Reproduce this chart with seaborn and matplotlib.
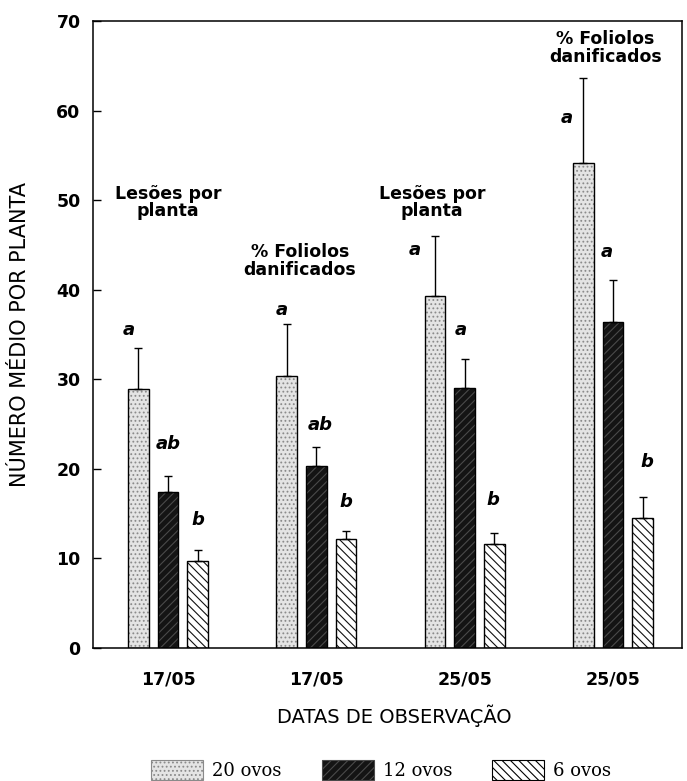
import matplotlib
matplotlib.use("Agg")
import matplotlib.pyplot as plt
import seaborn as sns
import pandas as pd
from matplotlib.patches import Patch, Rectangle

# ---------------- data ----------------
observacoes = ["17/05 lesões", "17/05 folíolos", "25/05 lesões", "25/05 folíolos"]
rotulos_x = ["17/05", "17/05", "25/05", "25/05"]
tratamentos = ["20 ovos", "12 ovos", "6 ovos"]

media_20 = [28.9, 30.4, 39.3, 54.2]
media_12 = [17.4, 20.3, 29.0, 36.4]
media_6 = [9.7, 12.2, 11.6, 14.5]

erro_20 = [4.6, 5.8, 6.7, 9.4]
erro_12 = [1.8, 2.1, 3.3, 4.7]
erro_6 = [1.2, 0.9, 1.2, 2.4]

letras_20 = ["a", "a", "a", "a"]
letras_12 = ["ab", "ab", "a", "a"]
letras_6 = ["b", "b", "b", "b"]

titulos = ["Lesões por\nplanta", "% Foliolos\ndanificados",
           "Lesões por\nplanta", "% Foliolos\ndanificados"]

# ---------------- layout / style ----------------
letras_y = {"20 ovos": [35.5, 37.7, 44.4, 59.2],
            "12 ovos": [22.8, 24.9, 35.5, 44.2],
            "6 ovos": [14.3, 16.3, 16.5, 20.8]}
letras_dx = {"20 ovos": [-0.067, -0.034, -0.14, -0.11],
             "12 ovos": [0.0, 0.027, -0.027, -0.04],
             "6 ovos": [0.0, 0.0, -0.013, 0.027]}
titulos_x = [0.0, 0.89, 1.78, 2.95]
titulos_y = [49.7, 43.2, 49.7, 67.0]

cores = {"20 ovos": "#e4e4e4", "12 ovos": "#141414", "6 ovos": "#ffffff"}
hachuras = {"20 ovos": "....", "12 ovos": "////", "6 ovos": "\\\\\\\\"}
cor_hachura = {"20 ovos": "#8a8a8a", "12 ovos": "#4a4a4a", "6 ovos": "#111111"}

medias = {"20 ovos": media_20, "12 ovos": media_12, "6 ovos": media_6}
erros = {"20 ovos": erro_20, "12 ovos": erro_12, "6 ovos": erro_6}
letras = {"20 ovos": letras_20, "12 ovos": letras_12, "6 ovos": letras_6}

linhas = []
for t in tratamentos:
    for o, m in zip(observacoes, medias[t]):
        linhas.append({"obs": o, "trat": t, "valor": m})
df = pd.DataFrame(linhas)

sns.set_style("ticks")
plt.rcParams["font.family"] = ["DejaVu Sans"]
plt.rcParams["hatch.linewidth"] = 0.8
plt.rcParams["text.color"] = "black"
plt.rcParams["axes.labelcolor"] = "black"
plt.rcParams["xtick.color"] = "black"
plt.rcParams["ytick.color"] = "black"

fig = plt.figure(figsize=(6.87, 7.81), dpi=100)
ax = fig.add_axes([0.1354, 0.1703, 0.8573, 0.8028])

sns.barplot(data=df, x="obs", y="valor", hue="trat", order=observacoes,
            hue_order=tratamentos, palette=cores, width=0.6, gap=0.31,
            errorbar=None, legend=False, ax=ax, linewidth=0)

for cont, t in zip(ax.containers, tratamentos):
    for j, bar in enumerate(cont):
        bar.set_hatch(hachuras[t])
        bar.set_edgecolor(cor_hachura[t])
        bar.set_linewidth(0)
        x0, y0 = bar.get_x(), bar.get_y()
        w, h = bar.get_width(), bar.get_height()
        ax.add_patch(Rectangle((x0, y0), w, h, fill=False, edgecolor="black",
                               linewidth=1.0, zorder=3))
        xc = x0 + w / 2
        ax.errorbar([xc], [h], yerr=[[0], [erros[t][j]]], fmt="none",
                    ecolor="black", elinewidth=1.0, capsize=3, capthick=1.0,
                    zorder=4)
        ax.text(xc + letras_dx[t][j], letras_y[t][j], letras[t][j],
                ha="center", va="center", fontsize=13, fontweight="bold",
                fontstyle="italic", color="black")

for x, y, s in zip(titulos_x, titulos_y, titulos):
    ax.text(x, y, s, ha="center", va="center", fontsize=12.5,
            fontweight="bold", linespacing=0.95, color="black")

ax.set_xlim(-0.506, 3.465)
ax.set_ylim(0, 70)
ax.set_yticks(range(0, 71, 10))
ax.set_yticklabels([str(v) for v in range(0, 71, 10)], fontsize=12.5,
                   fontweight="bold")
ax.set_xticks(range(len(observacoes)))
ax.set_xticklabels(rotulos_x, fontsize=12.5, fontweight="bold")
ax.tick_params(axis="y", direction="in", length=6, width=1, pad=9,
               colors="black")
ax.tick_params(axis="x", length=0, pad=16, colors="black")
for sp in ax.spines.values():
    sp.set_visible(True)
    sp.set_linewidth(1.1)
    sp.set_color("black")

ax.set_ylabel("NÚMERO MÉDIO POR PLANTA", fontsize=15, color="black")
ax.yaxis.set_label_coords(-0.107, 0.5)
ax.set_xlabel("DATAS DE OBSERVAÇÃO", fontsize=14, color="black")
ax.xaxis.set_label_coords(0.511, -0.09)

handles = [Patch(facecolor=cores[t], edgecolor=cor_hachura[t] if t != "6 ovos" else "black",
                 hatch=hachuras[t], linewidth=0.8) for t in tratamentos]
fig.legend(handles, tratamentos, loc="center", bbox_to_anchor=(0.555, 0.014),
           ncol=3, frameon=False, handlelength=2.9, handleheight=1.3,
           columnspacing=2.2, handletextpad=0.5,
           prop={"family": "DejaVu Serif", "size": 13})

fig.savefig("out.png", dpi=100)
